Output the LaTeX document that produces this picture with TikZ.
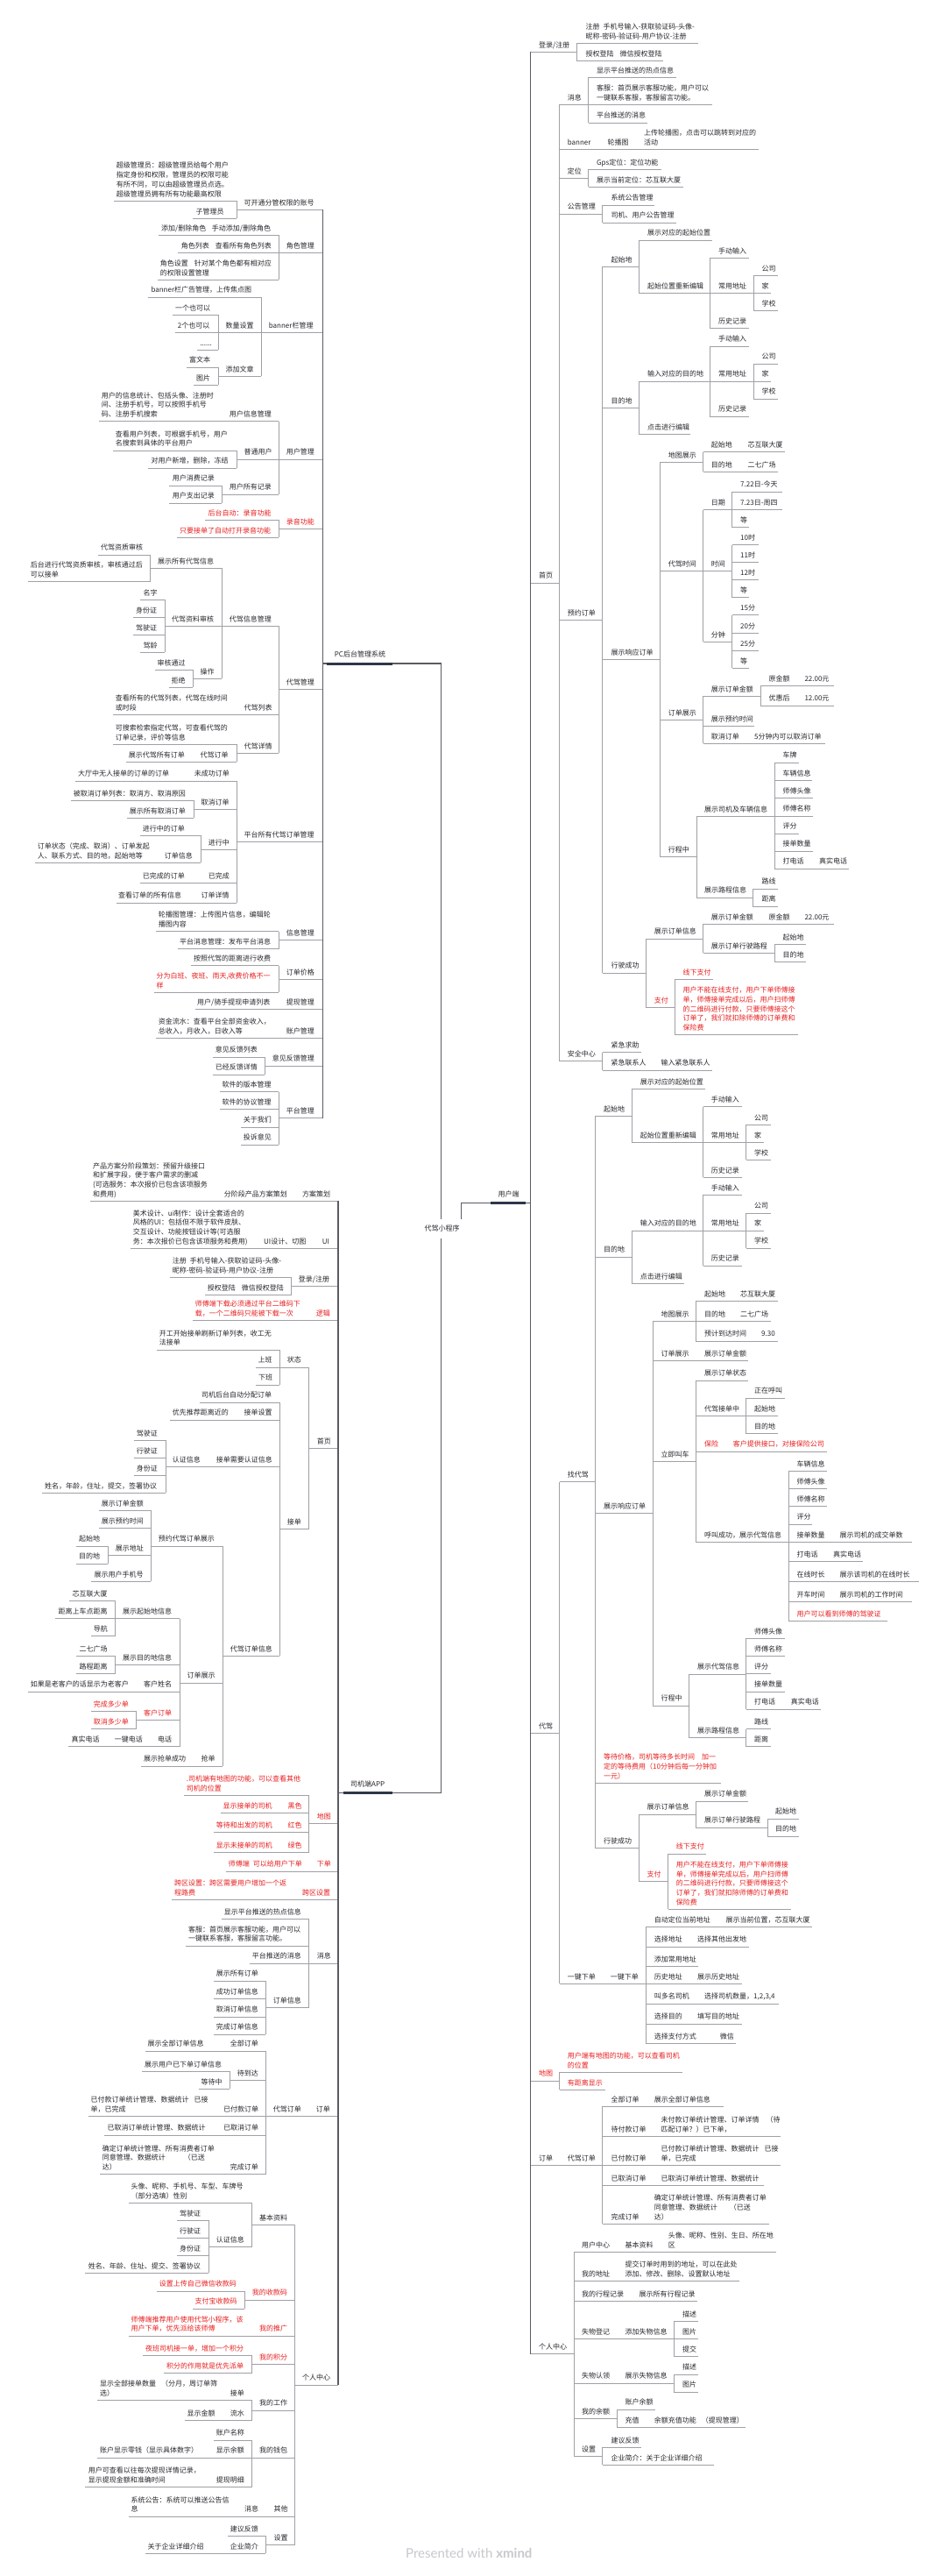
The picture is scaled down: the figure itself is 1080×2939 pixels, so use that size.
\documentclass[tikz,border=0pt]{standalone}
\usepackage{fontspec}
\setmainfont{Noto Sans CJK SC}
\newfontfamily\wmfont{Lato}
\definecolor{tc}{RGB}{40,40,46}
\definecolor{rc}{RGB}{232,30,30}
\definecolor{lc}{RGB}{160,160,166}
\definecolor{mc}{RGB}{90,90,100}
\definecolor{navy}{RGB}{45,55,72}
\definecolor{wmc}{RGB}{200,200,205}
\newcommand\fs{\fontsize{8}{10.7}\selectfont}
\newcounter{nn}
\newcommand\tx[4][]{\stepcounter{nn}\node[txt,#1] (t\arabic{nn}) at (#2,#3-1.8) {#4\strut};}
\newcommand\hl[3]{\draw[ln] (#1,#3) -- (#2,#3);}
\newcommand\vl[3]{\draw[ln] (#1,#2) -- (#1,#3);}
\newcommand\vm[3]{\draw[mln] (#1,#2) -- (#1,#3);}
\tikzset{
 txt/.style={font=\fs, text=tc, inner sep=0pt, anchor=south west, align=left},
 rt/.style={text=rc},
 ln/.style={draw=lc, line width=0.9pt},
 mln/.style={draw=mc, line width=1.2pt},
 topline/.style={draw=navy, line width=3pt},
}
\begin{document}
\begin{tikzpicture}[x=1pt,y=-1pt]
\fill[white] (0,0) rectangle (1080,2939);
\useasboundingbox (0,0) rectangle (1080,2939);

% ================= PC 后台管理系统 =================
\tx{132.7}{229.3}{超级管理员：超级管理员给每个用户\\指定身份和权限，管理员的权限可能\\有所不同，可以由超级管理员点选。\\超级管理员拥有所有功能最高权限}
\hl{130}{270}{229.3}
\tx{223.3}{249.3}{子管理员} \hl{220}{270}{249.3}
\vl{270}{229.3}{249.3}
\tx{278.3}{239.3}{可开通分管权限的账号} \hl{270}{368.3}{239.3}

\tx{184}{268.3}{添加/删除角色} \tx{241.7}{268.3}{手动添加/删除角色} \hl{180.7}{318.3}{268.3}
\tx{206.7}{288.3}{角色列表} \tx{245.7}{288.3}{查看所有角色列表} \hl{203.3}{318.3}{288.3}
\tx{182.7}{319.3}{角色设置\hspace{7pt}针对某个角色都有相对应\\的权限设置管理} \hl{180}{318.3}{319.3}
\vl{318.3}{268.3}{319.3}
\tx{326.7}{288.3}{角色管理} \hl{318.3}{368.3}{288.3}

\tx{172.3}{339}{banner栏广告管理，上传焦点图} \hl{169.3}{298.3}{339}
\tx{200}{359.3}{一个也可以} \hl{196.7}{249}{359.3}
\tx{202.7}{379.3}{2个也可以} \hl{200}{249}{379.3}
\tx{228.3}{399.3}{......} \hl{225}{249}{399.3}
\vl{249}{359.3}{399.3}
\tx{257.3}{379.3}{数量设置} \hl{249}{298.3}{379.3}
\tx{216}{419}{富文本} \hl{213.3}{249}{419}
\tx{224}{439.3}{图片} \hl{221}{249}{439.3}
\vl{249}{419}{439.3}
\tx{257.3}{429.3}{添加文章} \hl{249}{298.3}{429.3}
\vl{298.3}{339}{429.3}
\tx{306.7}{379.3}{banner栏管理} \hl{298.3}{368.3}{379.3}

\tx{115.7}{480.7}{用户的信息统计、包括头像、注册时\\间、注册手机号，可以按照手机号\\码、注册手机搜索} \tx{261.7}{480.7}{用户信息管理} \hl{112.7}{318.3}{480.7}
\tx{131.7}{514}{查看用户列表，可根据手机号，用户\\名搜索到具体的平台用户} \hl{129.3}{270}{514}
\tx{172.3}{534}{对用户新增，删除，冻结} \hl{169.3}{270}{534}
\vl{270}{514}{534}
\tx{278.3}{524}{普通用户} \hl{270}{318.3}{524}
\tx{196.7}{554}{用户消费记录} \hl{193.3}{253.3}{554}
\tx{196.7}{574}{用户支出记录} \hl{193.3}{253.3}{574}
\vl{253.3}{554}{574}
\tx{261.7}{564}{用户所有记录} \hl{253.3}{318.3}{564}
\vl{318.3}{480.7}{564}
\tx{326.7}{524}{用户管理} \hl{318.3}{368.3}{524}

\tx[rt]{237.3}{593.3}{后台自动：录音功能} \hl{234.3}{318.3}{593.3}
\tx[rt]{205}{613.3}{只要接单了自动打开录音功能} \hl{202.3}{318.3}{613.3}
\vl{318.3}{593.3}{613.3}
\tx[rt]{326.7}{603.3}{录音功能} \hl{318.3}{368.3}{603.3}

\tx{115}{633}{代驾资质审核} \hl{111.7}{171.7}{633}
\tx{34.7}{663.3}{后台进行代驾资质审核，审核通过后\\可以接单} \hl{32}{171.7}{663.3}
\vl{171.7}{633}{663.3}
\tx{180}{648.3}{展示所有代驾信息} \hl{171.7}{253.3}{648.3}
\tx{163.3}{684.3}{名字} \hl{160}{188.3}{684.3}
\tx{155}{704.3}{身份证} \hl{152.3}{188.3}{704.3}
\tx{155}{724.3}{驾驶证} \hl{152.3}{188.3}{724.3}
\tx{163.3}{744.3}{驾龄} \hl{160}{188.3}{744.3}
\vl{188.3}{684.3}{744.3}
\tx{196}{714.3}{代驾资料审核} \hl{188.3}{253.3}{714.3}
\tx{179.3}{764.3}{审核通过} \hl{176.7}{220}{764.3}
\tx{195.3}{784.3}{拒绝} \hl{192.7}{220}{784.3}
\vl{220}{764.3}{784.3}
\tx{228.3}{774.3}{操作} \hl{220}{253.3}{774.3}
\vl{253.3}{648.3}{774.3}
\tx{261.7}{714.3}{代驾信息管理} \hl{253.3}{318.3}{714.3}
\tx{131.7}{815.7}{查看所有的代驾列表，代驾在线时间\\或时段} \tx{278.3}{815.7}{代驾列表} \hl{129.3}{318.3}{815.7}
\tx{131.7}{849.3}{可搜索检索指定代驾，可查看代驾的\\订单记录，评价等信息} \hl{129.3}{270}{849.3}
\tx{146.7}{869.3}{展示代驾所有订单} \tx{228.3}{869.3}{代驾订单} \hl{144}{270}{869.3}
\vl{270}{849.3}{869.3}
\tx{278.3}{859.3}{代驾详情} \hl{270}{318.3}{859.3}
\vl{318.3}{714.3}{859.3}
\tx{326.7}{786.7}{代驾管理} \hl{318.3}{368.3}{786.7}

\tx{89}{891}{大厅中无人接单的订单的订单} \tx{221.7}{891}{未成功订单} \hl{86}{270}{891}
\tx{83.7}{913.3}{被取消订单列表：取消方、取消原因} \hl{81}{221}{913.3}
\tx{147.7}{933.3}{展示所有取消订单} \hl{145}{221}{933.3}
\vl{221}{913.3}{933.3}
\tx{229.3}{923.3}{取消订单} \hl{221}{270}{923.3}
\tx{162.7}{953.3}{进行中的订单} \hl{160}{229.3}{953.3}
\tx{42.7}{984.3}{订单状态（完成、取消）、订单发起\\人、联系方式、目的地，起始地等} \tx{187.7}{984.3}{订单信息} \hl{40}{229.3}{984.3}
\vl{229.3}{953.3}{984.3}
\tx{237.7}{969.3}{进行中} \hl{229.3}{270}{969.3}
\tx{162.7}{1007.3}{已完成的订单} \tx{237.7}{1007.3}{已完成} \hl{160}{270}{1007.3}
\tx{135}{1030}{查看订单的所有信息} \tx{229.3}{1030}{订单详情} \hl{132.7}{270}{1030}
\vl{270}{891}{1030}
\tx{278.3}{960.7}{平台所有代驾订单管理} \hl{270}{368.3}{960.7}

\tx{180.7}{1062.7}{轮播图管理：上传图片信息，编辑轮\\播图内容} \hl{178.3}{318.3}{1062.7}
\tx{205}{1082.7}{平台消息管理：发布平台消息} \hl{202.7}{318.3}{1082.7}
\vl{318.3}{1062.7}{1082.7}
\tx{326.7}{1072.7}{信息管理} \hl{318.3}{368.3}{1072.7}

\tx{221}{1101.7}{按照代驾的距离进行收费} \hl{218.3}{318.3}{1101.7}
\tx[rt]{178.3}{1132.3}{分为白班、夜班、雨天,收费价格不一\\样} \hl{175.7}{318.3}{1132.3}
\vl{318.3}{1101.7}{1132.3}
\tx{326.7}{1117.3}{订单价格} \hl{318.3}{368.3}{1117.3}
\tx{225}{1151.7}{用户/骑手提现申请列表} \tx{326.7}{1151.7}{提现管理} \hl{222.7}{368.3}{1151.7}
\tx{180.7}{1184.3}{资金流水：查看平台全部资金收入，\\总收入，月收入，日收入等} \tx{326.7}{1184.3}{账户管理} \hl{178.3}{368.3}{1184.3}
\tx{245.7}{1206}{意见反馈列表} \hl{242.7}{302.3}{1206}
\tx{245.7}{1226}{已经反馈详情} \hl{242.7}{302.3}{1226}
\vl{302.3}{1206}{1226}
\tx{310.7}{1216}{意见反馈管理} \hl{302.3}{368.3}{1216}
\tx{253.3}{1245.7}{软件的版本管理} \hl{251}{318.3}{1245.7}
\tx{253.3}{1265.7}{软件的协议管理} \hl{251}{318.3}{1265.7}
\tx{277.7}{1286}{关于我们} \hl{275}{318.3}{1286}
\tx{277.7}{1306}{投诉意见} \hl{275}{318.3}{1306}
\vl{318.3}{1245.7}{1306}
\tx{326.7}{1275.7}{平台管理} \hl{318.3}{368.3}{1275.7}

\vm{368.3}{239.3}{1275.7}
\tx{381.7}{755}{PC后台管理系统}
\draw[mln] (368.3,757) -- (373.3,757);
\draw[topline] (373.3,757) -- (448.3,757);
\draw[mln] (448.3,757) -- (503.3,757) -- (503.3,1391);

% ================= root =================
\tx{484.3}{1410}{代驾小程序}
\draw[mln] (503.3,1413) -- (503.3,2045.7) -- (448.3,2045.7);
\draw[mln] (526.7,1391) -- (526.7,1372.7) -- (560,1372.7);
\draw[topline] (560,1372.7) -- (600,1372.7);
\draw[mln] (600,1372.7) -- (605.3,1372.7);
\tx{568.3}{1370.7}{用户端}

% ================= 司机端APP =================
\tx{106}{1370.3}{产品方案分阶段策划：预留升级接口\\和扩展字段，便于客户需求的删减\\(可选服务：本次报价已包含该项服务\\和费用)} \tx{255.7}{1370.3}{分阶段产品方案策划} \tx{345}{1370.3}{方案策划} \hl{102.7}{386}{1370.3}
\tx{151.7}{1424.3}{美术设计、ui制作：设计全套适合的\\风格的UI：包括但不限于软件皮肤、\\交互设计、功能按钮设计等(可选服\\务：本次报价已包含该项服务和费用)} \tx{301}{1424.3}{UI设计、切图} \tx{367.7}{1424.3}{UI} \hl{149.3}{386}{1424.3}
\tx{196.7}{1457.3}{注册\hspace{4pt}手机号输入-获取验证码-头像-\\昵称-密码-验证码-用户协议-注册} \hl{194.3}{332.7}{1457.3}
\tx{236.7}{1477.3}{授权登陆\hspace{7pt}微信授权登陆} \hl{234}{332.7}{1477.3}
\vl{332.7}{1457.3}{1477.3}
\tx{340.7}{1467.3}{登录/注册} \hl{332.7}{386}{1467.3}
\tx[rt]{222.7}{1506.7}{师傅端下载必须通过平台二维码下\\载，一个二维码只能被下载一次} \tx[rt]{360.7}{1506.7}{逻辑} \hl{220}{386}{1506.7}
\tx{181.7}{1540}{开工开始接单刷新订单列表，收工无\\法接单} \hl{179.3}{319.3}{1540}
\tx{294.3}{1560}{上班} \hl{291.7}{319.3}{1560}
\tx{295}{1580}{下班} \hl{291.7}{319.3}{1580}
\vl{319.3}{1540}{1580}
\tx{327.7}{1560}{状态} \hl{319.3}{352.7}{1560}
\tx{230}{1600}{司机后台自动分配订单} \hl{227.7}{319.3}{1600}
\tx{196.7}{1620}{优先推荐距离近的} \tx{278.3}{1620}{接单设置} \hl{194.3}{319.3}{1620}
\tx{155.7}{1643.3}{驾驶证} \hl{152.7}{189}{1643.3}
\tx{155.7}{1663.3}{行驶证} \hl{152.7}{189}{1663.3}
\tx{155.7}{1683.3}{身份证} \hl{152.7}{189}{1683.3}
\tx{51}{1703.3}{姓名，年龄，住址，提交，签署协议} \hl{48}{189}{1703.3}
\vl{189}{1643.3}{1703.3}
\tx{196.7}{1673.3}{认证信息} \tx{246.7}{1673.3}{接单需要认证信息} \hl{189}{319.3}{1673.3}
\tx{115.7}{1723.3}{展示订单金额} \hl{112.7}{172.3}{1723.3}
\tx{115.7}{1743.3}{展示预约时间} \hl{112.7}{172.3}{1743.3}
\tx{90}{1764}{起始地} \hl{87}{123.3}{1764}
\tx{90}{1784}{目的地} \hl{87}{123.3}{1784}
\vl{123.3}{1764}{1784}
\tx{131.7}{1774.3}{展示地址} \hl{123.3}{172.3}{1774.3}
\tx{107.3}{1804.3}{展示用户手机号} \hl{104}{172.3}{1804.3}
\vl{172.3}{1723.3}{1804.3}
\tx{180.7}{1764}{预约代驾订单展示} \hl{172.3}{254.3}{1764}
\tx{82.3}{1826.7}{芯互联大厦} \hl{79.3}{131.7}{1826.7}
\tx{66.3}{1846.7}{距离上车点距离} \hl{63.3}{131.7}{1846.7}
\tx{106.7}{1866.7}{导航} \hl{104}{131.7}{1866.7}
\vl{131.7}{1826.7}{1866.7}
\tx{140}{1846.7}{展示起始地信息} \hl{131.7}{205}{1846.7}
\tx{90.3}{1889.3}{二七广场} \hl{87.3}{131.7}{1889.3}
\tx{90.3}{1909.3}{路程距离} \hl{87.3}{131.7}{1909.3}
\vl{131.7}{1889.3}{1909.3}
\tx{140}{1899.3}{展示目的地信息} \hl{131.7}{205}{1899.3}
\tx{34.7}{1930}{如果是老客户的话显示为老客户} \tx{164}{1930}{客户姓名} \hl{32}{205}{1930}
\tx[rt]{106.7}{1952.7}{完成多少单} \hl{104}{155.7}{1952.7}
\tx[rt]{106.7}{1972.7}{取消多少单} \hl{104}{155.7}{1972.7}
\vl{155.7}{1952.7}{1972.7}
\tx[rt]{164}{1962.7}{客户订单} \hl{155.7}{205}{1962.7}
\tx{81.3}{1992.7}{真实电话} \tx{130.7}{1992.7}{一键电话} \tx{180}{1992.7}{电话} \hl{78.3}{205}{1992.7}
\vl{205}{1846.7}{1992.7}
\tx{213.3}{1920}{订单展示} \hl{205}{254.3}{1920}
\tx{164}{2015}{展示抢单成功} \tx{229.3}{2015}{抢单} \hl{161}{254.3}{2015}
\vl{254.3}{1764}{2015}
\tx{262.7}{1889.3}{代驾订单信息} \hl{254.3}{319.3}{1889.3}
\vl{319.3}{1600}{1889.3}
\tx{327.7}{1744.3}{接单} \hl{319.3}{352.7}{1744.3}
\vl{352.7}{1560}{1744.3}
\tx{361.7}{1652.7}{首页} \hl{352.7}{386}{1652.7}

\tx[rt]{212.7}{2048.3}{.司机端有地图的功能，可以查看其他\\司机的位置} \hl{210}{352.7}{2048.3}
\tx[rt]{254.3}{2068.3}{显示接单的司机} \tx[rt]{328.3}{2068.3}{黑色} \hl{252.3}{352.7}{2068.3}
\tx[rt]{246.7}{2090.7}{等待和出发的司机} \tx[rt]{328.3}{2090.7}{红色} \hl{244}{352.7}{2090.7}
\tx[rt]{246.7}{2113.3}{显示未接单的司机} \tx[rt]{328.3}{2113.3}{绿色} \hl{244}{352.7}{2113.3}
\vl{352.7}{2048.3}{2113.3}
\tx[rt]{361.7}{2080.7}{地图} \hl{352.7}{386}{2080.7}
\tx[rt]{260.7}{2135}{师傅端\hspace{4pt}可以给用户下单} \tx[rt]{361.7}{2135}{下单} \hl{258.3}{386}{2135}
\tx[rt]{199}{2167.3}{跨区设置：跨区需要用户增加一个返\\程路费} \tx[rt]{345}{2167.3}{跨区设置} \hl{196}{386}{2167.3}
\tx{255.7}{2189.3}{显示平台推送的热点信息} \hl{253.3}{352.7}{2189.3}
\tx{215}{2220}{客服：首页展示客服功能，用户可以\\一键联系客服，客服留言功能。} \hl{212.3}{352.7}{2220}
\tx{287.7}{2240}{平台推送的消息} \hl{285}{352.7}{2240}
\tx{246.7}{2260}{展示所有订单} \hl{244}{303.3}{2260}
\tx{246.7}{2280.7}{成功订单信息} \hl{244}{303.3}{2280.7}
\tx{246.7}{2301}{取消订单信息} \hl{244}{303.3}{2301}
\tx{246.7}{2321}{完成订单信息} \hl{244}{303.3}{2321}
\vl{303.3}{2260}{2321}
\tx{311.7}{2290.7}{订单信息} \hl{303.3}{352.7}{2290.7}
\vl{352.7}{2189.3}{2290.7}
\tx{361.7}{2240}{消息} \hl{352.7}{386}{2240}
\tx{168.3}{2340}{展示全部订单信息} \tx{262.7}{2340}{全部订单} \hl{166}{303.3}{2340}
\tx{165}{2363.3}{展示用户已下单订单信息} \hl{162.3}{262.3}{2363.3}
\tx{229.3}{2383.3}{等待中} \hl{226.7}{262.3}{2383.3}
\vl{262.3}{2363.3}{2383.3}
\tx{270.7}{2373.3}{待到达} \hl{262.3}{303.3}{2373.3}
\tx{103.3}{2414.3}{已付款订单统计管理、数据统计\hspace{6pt}已接\\单，已完成} \tx{255}{2414.3}{已付款订单} \hl{101}{303.3}{2414.3}
\tx{122.3}{2436}{已取消订单统计管理、数据统计} \tx{255}{2436}{已取消订单} \hl{119.3}{303.3}{2436}
\tx{116.7}{2480.7}{确定订单统计管理、所有消费者订单\\同意管理、数据统计\hspace{21pt}（已送\\达）} \tx{262.7}{2480.7}{完成订单} \hl{114}{303.3}{2480.7}
\vl{303.3}{2340}{2480.7}
\tx{311.7}{2414.3}{代驾订单} \tx{360.7}{2414.3}{订单} \hl{303.3}{386}{2414.3}

\tx{149.3}{2513.3}{头像、昵称、手机号、车型、车牌号\\（部分选填）性别} \hl{146.7}{287.7}{2513.3}
\tx{205}{2533.3}{驾驶证} \hl{202.3}{238.3}{2533.3}
\tx{205}{2553.3}{行驶证} \hl{202.3}{238.3}{2553.3}
\tx{205}{2573.3}{身份证} \hl{202.3}{238.3}{2573.3}
\tx{100.7}{2593.3}{姓名、年龄、住址、提交、签署协议} \hl{97.3}{238.3}{2593.3}
\vl{238.3}{2533.3}{2593.3}
\tx{246.7}{2563.3}{认证信息} \hl{238.3}{287.7}{2563.3}
\vl{287.7}{2513.3}{2563.3}
\tx{296}{2538.3}{基本资料} \hl{287.7}{336.7}{2538.3}
\tx[rt]{181.7}{2614}{设置上传自己微信收款码} \hl{179}{279.3}{2614}
\tx[rt]{222.3}{2634}{支付宝收款码} \hl{220}{279.3}{2634}
\vl{279.3}{2614}{2634}
\tx[rt]{287.7}{2624}{我的收款码} \hl{279.3}{336.7}{2624}
\tx[rt]{149.3}{2665}{师傅端推荐用户使用代驾小程序，该\\用户下单，优先派给该师傅} \tx[rt]{296}{2665}{我的推广} \hl{146.7}{336.7}{2665}
\tx[rt]{166}{2687.7}{夜班司机接一单，增加一个积分} \hl{163.3}{287.7}{2687.7}
\tx[rt]{190}{2707.7}{积分的作用就是优先派单} \hl{187.3}{287.7}{2707.7}
\vl{287.7}{2687.7}{2707.7}
\tx[rt]{296}{2697.7}{我的积分} \hl{287.7}{336.7}{2697.7}
\tx{114}{2738.3}{显示全部接单数量\hspace{6pt}（分月，周订单筛\\选）} \tx{262.7}{2738.3}{接单} \hl{111}{287.7}{2738.3}
\tx{213.3}{2761.7}{显示金额} \tx{262.7}{2761.7}{流水} \hl{210.7}{287.7}{2761.7}
\vl{287.7}{2738.3}{2761.7}
\tx{296}{2750}{我的工作} \hl{287.7}{336.7}{2750}
\tx{246.7}{2784}{账户名称} \hl{244}{287.7}{2784}
\tx{114}{2804}{账户显示零钱（显示具体数字）} \tx{246.7}{2804}{显示余额} \hl{111}{287.7}{2804}
\tx{100.7}{2837.3}{用户可查看以往每次提现详情记录，\\显示提现金额和准确时间} \tx{246.7}{2837.3}{提现明细} \hl{97.3}{287.7}{2837.3}
\vl{287.7}{2784}{2837.3}
\tx{296}{2804}{我的钱包} \hl{287.7}{336.7}{2804}
\tx{149.3}{2871}{系统公告：系统可以推送公告信\\息} \tx{279}{2871}{消息} \tx{312.3}{2871}{其他} \hl{146.7}{336.7}{2871}
\tx{262.7}{2893.3}{建议反馈} \hl{260}{303.3}{2893.3}
\tx{168.3}{2913.3}{关于企业详细介绍} \tx{262.7}{2913.3}{企业简介} \hl{166}{303.3}{2913.3}
\vl{303.3}{2893.3}{2913.3}
\tx{312.3}{2903.3}{设置} \hl{303.3}{336.7}{2903.3}
\vl{336.7}{2538.3}{2903.3}
\tx{345}{2721}{个人中心} \hl{336.7}{386}{2721}

\vm{386}{1370.3}{2721}
\tx{400}{2043.7}{司机端APP}
\draw[mln] (386,2045.7) -- (391.7,2045.7);
\draw[topline] (391.7,2045.7) -- (448.3,2045.7);

% ================= 用户端 =================
\tx{615}{59.3}{登录/注册} \hl{605.3}{658.3}{59.3}
\tx{668.3}{49.3}{注册\hspace{4pt}手机号输入-获取验证码-头像-\\昵称-密码-验证码-用户协议-注册} \hl{658.3}{796.7}{49.3}
\tx{668.3}{69.3}{授权登陆\hspace{7pt}微信授权登陆} \hl{658.3}{757.3}{69.3}
\vl{658.3}{49.3}{69.3}

\tx{681}{88.3}{显示平台推送的热点信息} \hl{671.7}{771.7}{88.3}
\tx{681}{119.3}{客服：首页展示客服功能，用户可以\\一键联系客服，客服留言功能。} \hl{671.7}{812.7}{119.3}
\tx{681}{140}{平台推送的消息} \hl{671.7}{739.3}{140}
\vl{671.7}{88.3}{140}
\tx{647.7}{119.3}{消息} \hl{638.7}{671.7}{119.3}
\tx{647.7}{170.7}{banner} \tx{693.3}{170.7}{轮播图} \tx{735}{170.7}{上传轮播图，点击可以跳转到对应的\\活动} \hl{638.7}{866}{170.7}
\tx{647.7}{203.3}{定位} \hl{638.7}{671.7}{203.3}
\tx{681}{193.3}{Gps定位：定位功能} \hl{671.7}{755}{193.3}
\tx{681}{213.3}{展示当前定位：芯互联大厦} \hl{671.7}{780}{213.3}
\vl{671.7}{193.3}{213.3}
\tx{647.7}{244}{公告管理} \hl{638.7}{687.7}{244}
\tx{697.3}{234}{系统公告管理} \hl{687.7}{747.3}{234}
\tx{697.3}{254}{司机、用户公告管理} \hl{687.7}{771.7}{254}
\vl{687.7}{234}{254}

\tx{697.3}{304.3}{起始地} \hl{687.7}{729}{304.3}
\tx{739}{274}{展示对应的起始位置} \hl{729}{813.3}{274}
\tx{739}{334.3}{起始位置重新编辑} \hl{729}{810}{334.3}
\vl{729}{274}{334.3}
\tx{820}{294.3}{手动输入} \hl{810}{855}{294.3}
\tx{820}{334.3}{常用地址} \hl{810}{860}{334.3}
\tx{820}{374.3}{历史记录} \hl{810}{855}{374.3}
\vl{810}{294.3}{374.3}
\tx{869.3}{314.3}{公司} \hl{860}{887.7}{314.3}
\tx{869.3}{334.3}{家} \hl{860}{880}{334.3}
\tx{869.3}{354.3}{学校} \hl{860}{887.7}{354.3}
\vl{860}{314.3}{354.3}
\tx{697.3}{465.7}{目的地} \hl{687.7}{729}{465.7}
\tx{739}{435}{输入对应的目的地} \hl{729}{810}{435}
\tx{739}{495.7}{点击进行编辑} \hl{729}{788.3}{495.7}
\vl{729}{435}{495.7}
\tx{820}{395}{手动输入} \hl{810}{855}{395}
\tx{820}{435}{常用地址} \hl{810}{860}{435}
\tx{820}{475}{历史记录} \hl{810}{855}{475}
\vl{810}{395}{475}
\tx{869.3}{415}{公司} \hl{860}{887.7}{415}
\tx{869.3}{435}{家} \hl{860}{880}{435}
\tx{869.3}{455}{学校} \hl{860}{887.7}{455}
\vl{860}{415}{455}

\tx{615}{665}{首页} \hl{605.3}{638.7}{665}
\tx{647.7}{707.7}{预约订单} \hl{638.7}{687.7}{707.7}
\tx{697.3}{752.3}{展示响应订单} \hl{687.7}{753.3}{752.3}
\tx{762.7}{527.3}{地图展示} \hl{753.3}{802.7}{527.3}
\tx{811.7}{515.7}{起始地} \tx{853.3}{515.7}{芯互联大厦} \hl{802.7}{896}{515.7}
\tx{811.7}{538.3}{目的地} \tx{853.3}{538.3}{二七广场} \hl{802.7}{888.3}{538.3}
\vl{802.7}{515.7}{538.3}
\tx{811.7}{581.7}{日期} \hl{802.7}{835.7}{581.7}
\tx{845}{561}{7.22日-今天} \hl{835.7}{892.7}{561}
\tx{845}{581.7}{7.23日-周四} \hl{835.7}{892.7}{581.7}
\tx{845}{601.7}{等} \hl{835.7}{855}{601.7}
\vl{835.7}{561}{601.7}
\tx{762.7}{651.7}{代驾时间} \hl{753.3}{802.7}{651.7}
\tx{811.7}{651.7}{时间} \hl{802.7}{835.7}{651.7}
\tx{845}{621.7}{10时} \hl{835.7}{865.7}{621.7}
\tx{845}{641.7}{11时} \hl{835.7}{865.7}{641.7}
\tx{845}{661.7}{12时} \hl{835.7}{865.7}{661.7}
\tx{845}{681.7}{等} \hl{835.7}{855}{681.7}
\vl{835.7}{621.7}{681.7}
\tx{811.7}{732.3}{分钟} \hl{802.7}{835.7}{732.3}
\tx{845}{701.7}{15分} \hl{835.7}{865.7}{701.7}
\tx{845}{722.3}{20分} \hl{835.7}{865.7}{722.3}
\tx{845}{742.3}{25分} \hl{835.7}{865.7}{742.3}
\tx{845}{762.3}{等} \hl{835.7}{855}{762.3}
\vl{835.7}{701.7}{762.3}
\vl{802.7}{581.7}{732.3}
\tx{762.7}{821.7}{订单展示} \hl{753.3}{802.7}{821.7}
\tx{811.7}{794.3}{展示订单金额} \hl{802.7}{868.3}{794.3}
\tx{877.3}{782.7}{原金额} \tx{918.3}{782.7}{22.00元} \hl{868.3}{951.7}{782.7}
\tx{877.3}{805}{优惠后} \tx{918.3}{805}{12.00元} \hl{868.3}{951.7}{805}
\vl{868.3}{782.7}{805}
\tx{811.7}{828.3}{展示预约时间} \hl{802.7}{860.7}{828.3}
\tx{811.7}{848.3}{取消订单} \tx{861}{848.3}{5分钟内可以取消订单} \hl{802.7}{941.7}{848.3}
\vl{802.7}{794.3}{848.3}
\tx{762.7}{977.7}{行程中} \hl{753.3}{795}{977.7}
\tx{804}{931.7}{展示司机及车辆信息} \hl{795}{884.3}{931.7}
\tx{893.3}{870}{车牌} \hl{884.3}{911.7}{870}
\tx{893.3}{890.7}{车辆信息} \hl{884.3}{926.7}{890.7}
\tx{893.3}{910.7}{师傅头像} \hl{884.3}{928.3}{910.7}
\tx{893.3}{931}{师傅名称} \hl{884.3}{928.3}{931}
\tx{893.3}{951}{评分} \hl{884.3}{911.7}{951}
\tx{893.3}{971}{接单数量} \hl{884.3}{928.3}{971}
\tx{893.3}{991}{打电话} \tx{935}{991}{真实电话} \hl{884.3}{969.3}{991}
\vl{884.3}{870}{991}
\tx{804}{1024}{展示路程信息} \hl{795}{859.3}{1024}
\tx{869.3}{1014}{路线} \hl{859.3}{887.7}{1014}
\tx{869.3}{1034}{距离} \hl{859.3}{887.7}{1034}
\vl{859.3}{1014}{1034}
\vl{795}{931.7}{1024}
\vl{753.3}{527.3}{977.7}
\tx{697.3}{1110}{行驶成功} \hl{687.7}{737.3}{1110}
\tx{746.7}{1071}{展示订单信息} \hl{737.3}{802.7}{1071}
\tx{811.7}{1054.3}{展示订单金额} \tx{877.3}{1054.3}{原金额} \tx{918.3}{1054.3}{22.00元} \hl{802.7}{951.7}{1054.3}
\tx{811.7}{1087.3}{展示订单行驶路程} \hl{802.7}{884.3}{1087.3}
\tx{893.3}{1077.3}{起始地} \hl{884.3}{920}{1077.3}
\tx{893.3}{1097.3}{目的地} \hl{884.3}{920}{1097.3}
\vl{884.3}{1077.3}{1097.3}
\vl{802.7}{1054.3}{1087.3}
\tx[rt]{746.7}{1149.3}{支付} \hl{737.3}{770.7}{1149.3}
\tx[rt]{779.3}{1117.3}{线下支付} \hl{770.7}{814}{1117.3}
\tx[rt]{779.3}{1180.7}{用户不能在线支付，用户下单师傅接\\单，师傅接单完成以后，用户扫师傅\\的二维码进行付款，只要师傅接这个\\订单了，我们就扣除师傅的订单费和\\保险费} \hl{770.7}{911}{1180.7}
\vl{770.7}{1117.3}{1180.7}
\vl{737.3}{1071}{1149.3}
\vl{687.7}{304.3}{1110}
\tx{647.7}{1210.7}{安全中心} \hl{638.7}{687.7}{1210.7}
\tx{697.3}{1200.7}{紧急求助} \hl{687.7}{731.7}{1200.7}
\tx{697.3}{1221}{紧急联系人} \tx{754.3}{1221}{输入紧急联系人} \hl{687.7}{813.3}{1221}
\vl{687.7}{1200.7}{1221}
\vl{638.7}{119.3}{1210.7}

% 找代驾
\tx{689}{1273.3}{起始地} \hl{679.3}{721}{1273.3}
\tx{730.7}{1242.7}{展示对应的起始位置} \hl{721}{805}{1242.7}
\tx{730.7}{1303.3}{起始位置重新编辑} \hl{721}{802.7}{1303.3}
\vl{721}{1242.7}{1303.3}
\tx{811.7}{1262.7}{手动输入} \hl{802.7}{846.7}{1262.7}
\tx{811.7}{1303.3}{常用地址} \hl{802.7}{851.7}{1303.3}
\tx{811.7}{1343.3}{历史记录} \hl{802.7}{846.7}{1343.3}
\vl{802.7}{1262.7}{1343.3}
\tx{861}{1283.3}{公司} \hl{851.7}{880}{1283.3}
\tx{861}{1303.3}{家} \hl{851.7}{871.7}{1303.3}
\tx{861}{1323.3}{学校} \hl{851.7}{880}{1323.3}
\vl{851.7}{1283.3}{1323.3}
\tx{689}{1434}{目的地} \hl{679.3}{721}{1434}
\tx{730.7}{1404}{输入对应的目的地} \hl{721}{802.7}{1404}
\tx{811.7}{1363.3}{手动输入} \hl{802.7}{846.7}{1363.3}
\tx{811.7}{1404}{常用地址} \hl{802.7}{851.7}{1404}
\tx{811.7}{1444}{历史记录} \hl{802.7}{846.7}{1444}
\vl{802.7}{1363.3}{1444}
\tx{861}{1384}{公司} \hl{851.7}{880}{1384}
\tx{861}{1404}{家} \hl{851.7}{871.7}{1404}
\tx{861}{1424}{学校} \hl{851.7}{880}{1424}
\vl{851.7}{1384}{1424}
\tx{730.7}{1464.3}{点击进行编辑} \hl{721}{780.7}{1464.3}
\vl{721}{1404}{1464.3}

\tx{647.7}{1690.7}{找代驾} \hl{638.7}{679.3}{1690.7}
\tx{689}{1726.7}{展示响应订单} \hl{679.3}{745}{1726.7}
\tx{754.3}{1507.7}{地图展示} \hl{745}{794.3}{1507.7}
\tx{804}{1484.3}{起始地} \tx{845}{1484.3}{芯互联大厦} \hl{794.3}{888.3}{1484.3}
\tx{804}{1507.7}{目的地} \tx{845}{1507.7}{二七广场} \hl{794.3}{880}{1507.7}
\tx{804}{1530}{预计到达时间} \tx{869}{1530}{9.30} \hl{794.3}{888.3}{1530}
\vl{794.3}{1484.3}{1530}
\tx{754.3}{1552.7}{订单展示} \tx{804}{1552.7}{展示订单金额} \hl{745}{854.3}{1552.7}
\tx{754.3}{1667.7}{立即叫车} \hl{745}{794.3}{1667.7}
\tx{804}{1575}{展示订单状态} \hl{794.3}{854.3}{1575}
\tx{804}{1615.7}{代驾接单中} \hl{794.3}{851.7}{1615.7}
\tx{861}{1595}{正在呼叫} \hl{851.7}{896}{1595}
\tx{861}{1615.7}{起始地} \hl{851.7}{888.3}{1615.7}
\tx{861}{1635.7}{目的地} \hl{851.7}{888.3}{1635.7}
\vl{851.7}{1595}{1635.7}
\tx[rt]{804}{1656}{保险} \tx[rt]{836.7}{1656}{客户提供接口，对接保险公司} \hl{794.3}{944}{1656}
\tx{804}{1759.3}{呼叫成功，展示代驾信息} \hl{794.3}{900}{1759.3}
\tx{909.3}{1678.3}{车辆信息} \hl{900}{944}{1678.3}
\tx{909.3}{1698.3}{师傅头像} \hl{900}{944}{1698.3}
\tx{909.3}{1718.3}{师傅名称} \hl{900}{944}{1718.3}
\tx{909.3}{1739}{评分} \hl{900}{926.7}{1739}
\tx{909.3}{1759.3}{接单数量} \tx{958.3}{1759.3}{展示司机的成交单数} \hl{900}{1041}{1759.3}
\tx{909.3}{1781.7}{打电话} \tx{951}{1781.7}{真实电话} \hl{900}{985}{1781.7}
\tx{909.3}{1804.3}{在线时长} \tx{958.3}{1804.3}{展示该司机的在线时长} \hl{900}{1049}{1804.3}
\tx{909.3}{1827.3}{开车时间} \tx{958.3}{1827.3}{展示司机的工作时间} \hl{900}{1041}{1827.3}
\tx[rt]{909.3}{1849.3}{用户可以看到师傅的驾驶证} \hl{900}{1013}{1849.3}
\vl{900}{1678.3}{1849.3}
\vl{794.3}{1575}{1759.3}
\tx{796}{1910}{展示代驾信息} \hl{786}{851.7}{1910}
\tx{861}{1869.3}{师傅头像} \hl{851.7}{896}{1869.3}
\tx{861}{1889.3}{师傅名称} \hl{851.7}{896}{1889.3}
\tx{861}{1909.3}{评分} \hl{851.7}{880}{1909.3}
\tx{861}{1930}{接单数量} \hl{851.7}{896}{1930}
\tx{861}{1950}{打电话} \tx{902.7}{1950}{真实电话} \hl{851.7}{936.7}{1950}
\vl{851.7}{1869.3}{1950}
\tx{754.3}{1946}{行程中} \hl{745}{786}{1946}
\tx{796}{1982.7}{展示路程信息} \hl{786}{851.7}{1982.7}
\tx{861}{1972.7}{路线} \hl{851.7}{880}{1972.7}
\tx{861}{1992.7}{距离} \hl{851.7}{880}{1992.7}
\vl{851.7}{1972.7}{1992.7}
\vl{786}{1910}{1982.7}
\vl{745}{1507.7}{1946}

\tx[rt]{689}{2034.3}{等待价格，司机等待多长时间\hspace{8pt}加一\\定的等待费用（10分钟后每一分钟加\\一元）} \hl{679.3}{822.7}{2034.3}
\tx{689}{2108.3}{行驶成功} \hl{679.3}{729.3}{2108.3}
\tx{738.3}{2070}{展示订单信息} \hl{729.3}{794.3}{2070}
\tx{804}{2055}{展示订单金额} \hl{794.3}{854.3}{2055}
\tx{804}{2085}{展示订单行驶路程} \hl{794.3}{876}{2085}
\tx{885}{2075}{起始地} \hl{876}{911.7}{2075}
\tx{885}{2095}{目的地} \hl{876}{911.7}{2095}
\vl{876}{2075}{2095}
\vl{794.3}{2055}{2085}
\tx[rt]{738.3}{2146.7}{支付} \hl{729.3}{762.7}{2146.7}
\tx[rt]{771.7}{2115}{线下支付} \hl{762.7}{806}{2115}
\tx[rt]{771.7}{2178.3}{用户不能在线支付，用户下单师傅接\\单，师傅接单完成以后，用户扫师傅\\的二维码进行付款，只要师傅接这个\\订单了，我们就扣除师傅的订单费和\\保险费} \hl{762.7}{902.7}{2178.3}
\vl{762.7}{2115}{2178.3}
\vl{729.3}{2070}{2146.7}
\vl{679.3}{1273.3}{2108.3}
\tx{615}{1977.3}{代驾} \hl{605.3}{638.7}{1977.3}
\tx{647.7}{2263.3}{一键下单} \tx{696.7}{2263.3}{一键下单} \hl{638.7}{737.3}{2263.3}
\tx{746.7}{2198.3}{自动定位当前地址} \tx{828.3}{2198.3}{展示当前位置，芯互联大厦} \hl{737.3}{926.7}{2198.3}
\tx{746.7}{2221}{选择地址} \tx{796}{2221}{选择其他出发地} \hl{737.3}{855}{2221}
\tx{746.7}{2243.3}{添加常用地址} \hl{737.3}{797.3}{2243.3}
\tx{746.7}{2263.3}{历史地址} \tx{796}{2263.3}{展示历史地址} \hl{737.3}{846.7}{2263.3}
\tx{746.7}{2286}{叫多名司机} \tx{804}{2286}{选择司机数量，1,2,3,4} \hl{737.3}{889.3}{2286}
\tx{746.7}{2309}{选择目的} \tx{796}{2309}{填写目的地址} \hl{737.3}{846.7}{2309}
\tx{746.7}{2331.7}{选择支付方式} \tx{821.7}{2331.7}{微信} \hl{737.3}{840}{2331.7}
\vl{737.3}{2198.3}{2331.7}
\vl{638.7}{1690.7}{2263.3}

\tx[rt]{615}{2374}{地图} \hl{605.3}{638.7}{2374}
\tx[rt]{647.7}{2364.3}{用户端有地图的功能，可以查看司机\\的位置} \hl{638.7}{779.3}{2364.3}
\tx[rt]{647.7}{2384.3}{有距离显示} \hl{638.7}{690.7}{2384.3}
\vl{638.7}{2364.3}{2384.3}

\tx{697.3}{2403.3}{全部订单} \tx{746.7}{2403.3}{展示全部订单信息} \hl{687.7}{825.7}{2403.3}
\tx{697.3}{2437.3}{待付款订单} \tx{754.3}{2437.3}{未付款订单统计管理、订单详情\hspace{8pt}（待\\匹配订单？）已下单，} \hl{687.7}{891}{2437.3}
\tx{697.3}{2470.7}{已付款订单} \tx{754.3}{2470.7}{已付款订单统计管理、数据统计\hspace{6pt}已接\\单，已完成} \hl{687.7}{891}{2470.7}
\tx{697.3}{2493.3}{已取消订单} \tx{754.3}{2493.3}{已取消订单统计管理、数据统计} \hl{687.7}{872.3}{2493.3}
\tx{697.3}{2537.3}{完成订单} \tx{746.7}{2537.3}{确定订单统计管理、所有消费者订单\\同意管理、数据统计\hspace{14pt}（已送\\达）} \hl{687.7}{877.7}{2537.3}
\vl{687.7}{2403.3}{2537.3}
\tx{615}{2470.7}{订单} \tx{647.7}{2470.7}{代驾订单} \hl{605.3}{687.7}{2470.7}

\tx{615}{2685.7}{个人中心} \hl{605.3}{655}{2685.7}
\tx{664}{2569.3}{用户中心} \tx{713.3}{2569.3}{基本资料} \tx{762.7}{2569.3}{头像、昵称、性别、生日、所在地\\区} \hl{655}{886}{2569.3}
\tx{664}{2602.7}{我的地址} \tx{713.3}{2602.7}{提交订单时用到的地址，可以在此处\\添加、修改、删除、设置默认地址} \hl{655}{844.3}{2602.7}
\tx{664}{2625.7}{我的行程记录} \tx{729.3}{2625.7}{展示所有行程记录} \hl{655}{796}{2625.7}
\tx{664}{2668.3}{失物登记} \tx{713.3}{2668.3}{添加失物信息} \hl{655}{769.3}{2668.3}
\tx{779}{2648.3}{描述} \hl{769.3}{797.3}{2648.3}
\tx{779}{2668.3}{图片} \hl{769.3}{797.3}{2668.3}
\tx{779}{2688.3}{提交} \hl{769.3}{797.3}{2688.3}
\vl{769.3}{2648.3}{2688.3}
\tx{664}{2719}{失物认领} \tx{713.3}{2719}{展示失物信息} \hl{655}{769.3}{2719}
\tx{779}{2709}{描述} \hl{769.3}{797.3}{2709}
\tx{779}{2729}{图片} \hl{769.3}{797.3}{2729}
\vl{769.3}{2709}{2729}
\tx{664}{2759.3}{我的余额} \hl{655}{704.3}{2759.3}
\tx{713.3}{2749}{账户余额} \hl{704.3}{747.7}{2749}
\tx{713.3}{2769.3}{充值} \tx{746.7}{2769.3}{余额充值功能\hspace{6pt}（提现管理）} \hl{704.3}{850.7}{2769.3}
\vl{704.3}{2749}{2769.3}
\tx{664}{2802.3}{设置} \hl{655}{687.7}{2802.3}
\tx{697.3}{2792.3}{建议反馈} \hl{687.7}{731.7}{2792.3}
\tx{697.3}{2812.3}{企业简介：关于企业详细介绍} \hl{687.7}{815}{2812.3}
\vl{687.7}{2792.3}{2812.3}
\vl{655}{2569.3}{2802.3}
\vm{605.3}{59.3}{2685.7}

\node[font=\wmfont\fontsize{15}{18}\selectfont, text=wmc, anchor=west, inner sep=0pt] (wm) at (463,2913) {Presented with \textbf{xmind}};
\end{tikzpicture}
\end{document}
